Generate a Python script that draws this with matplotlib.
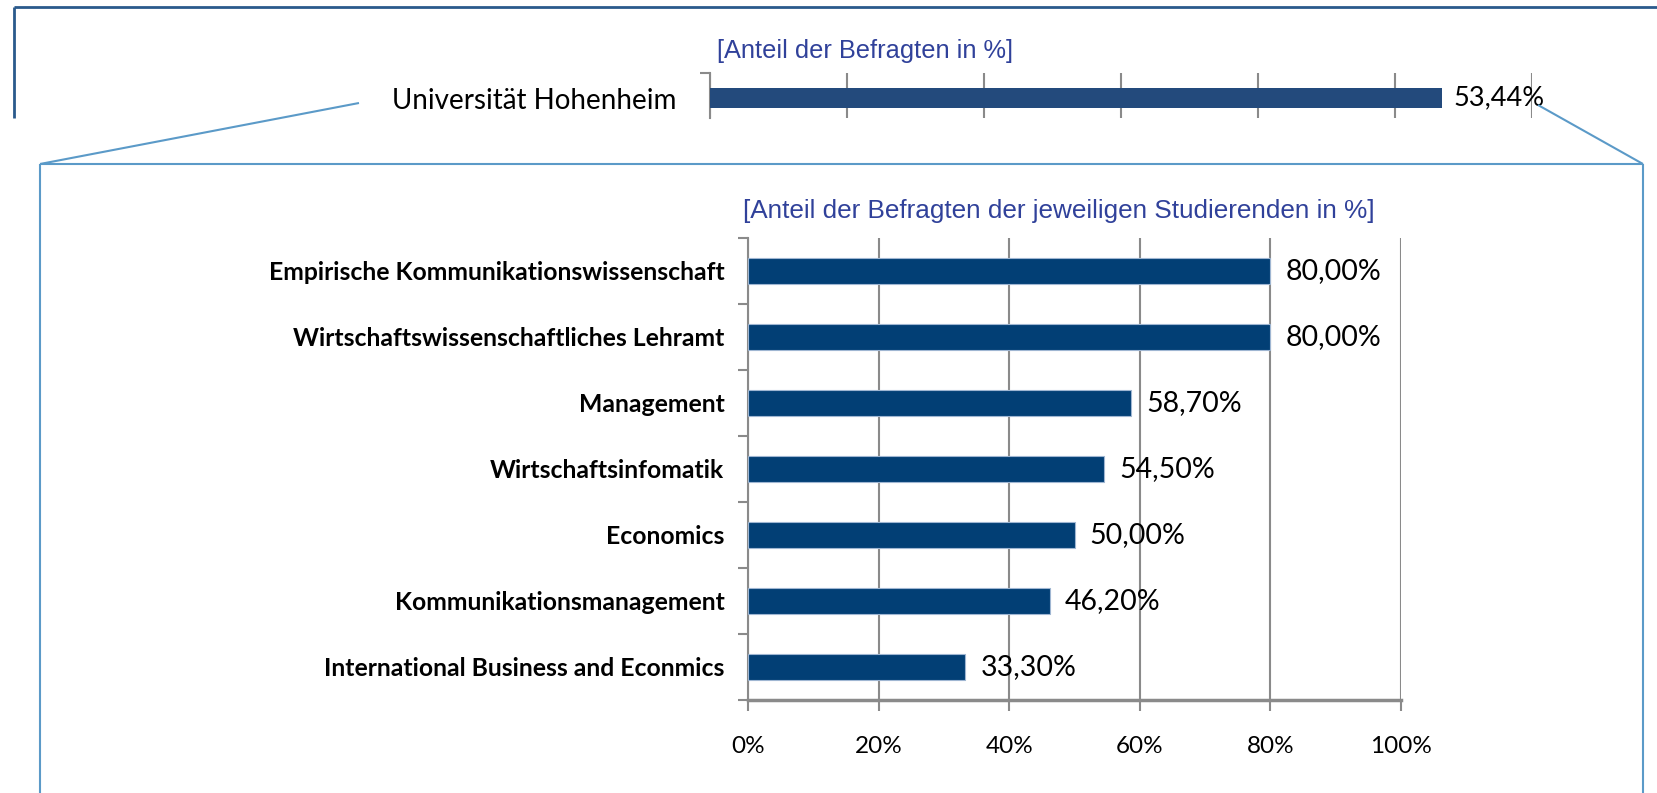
import numpy as np
import matplotlib
matplotlib.use("Agg")
import matplotlib.pyplot as plt
from matplotlib.lines import Line2D

# data
top_label = "Universität Hohenheim"
top_value = 53.44
top_title = "[Anteil der Befragten in %]"

categories = ["Empirische Kommunikationswissenschaft",
              "Wirtschaftswissenschaftliches Lehramt",
              "Management",
              "Wirtschaftsinfomatik",
              "Economics",
              "Kommunikationsmanagement",
              "International Business and Econmics"]
values = [80.0, 80.0, 58.7, 54.5, 50.0, 46.2, 33.3]
bottom_title = "[Anteil der Befragten der jeweiligen Studierenden in %]"
xticks = [0, 20, 40, 60, 80, 100]
xtick_labels = ["0%", "20%", "40%", "60%", "80%", "100%"]

W, H = 1657, 793
BODY = ["Lato", "DejaVu Sans"]
NARROW = ["Liberation Sans Narrow", "Liberation Sans", "DejaVu Sans"]
GRID = "#8a8a8a"
TITLE_C = "#30419a"
LINE_C = "#5b9ac8"


def fx(x):
    return x / W


def fy(y):
    return 1 - y / H


def rect(l, t, r, b):
    return [fx(l), fy(b), (r - l) / W, (b - t) / H]


def fline(xs, ys, color, lw):
    fig.add_artist(Line2D([fx(x) for x in xs], [fy(y) for y in ys],
                          transform=fig.transFigure, color=color, lw=lw,
                          solid_capstyle="butt"))


def fmt(v):
    return f"{v:.2f}".replace(".", ",") + "%"


fig = plt.figure(figsize=(W / 100, H / 100), dpi=100)

# frame of the outer (top) chart
fline([14, W], [7, 7], "#2a5a8c", 2)
fline([14, 14], [7, 118], "#2a5a8c", 2)

# ---- top chart
ax1 = fig.add_axes(rect(710, 73, 1532, 118))
ax1.barh([0], [top_value], height=0.444, color="#234a7c", zorder=3)
ax1.set_xlim(0, 60)
ax1.set_ylim(-0.444, 0.556)
ax1.set_xticks(range(0, 61, 10))
ax1.tick_params(axis="x", length=0, labelbottom=False)
ax1.grid(axis="x", color=GRID, lw=1.5, zorder=0)
for s in ["top", "right", "bottom"]:
    ax1.spines[s].set_visible(False)
ax1.spines["left"].set_color(GRID)
ax1.spines["left"].set_linewidth(1.5)
ax1.set_yticks([0], labels=[top_label], fontsize=20, family=BODY)
ax1.set_yticks([0.556], minor=True)
ax1.tick_params(axis="y", which="major", length=0, pad=24)
ax1.tick_params(axis="y", which="minor", length=7, width=1.5, color=GRID)
ax1.annotate(fmt(top_value), (top_value, 0), xytext=(8, 0),
             textcoords="offset points", va="center", ha="left",
             fontsize=19.5, family=BODY)
fig.text(fx(865), fy(51), top_title, color=TITLE_C, fontsize=18.3,
         family=NARROW, ha="center", va="center")

# ---- zoom callout box
fline([359, 40], [103, 164], LINE_C, 1.5)
fline([1538, 1643], [105, 164], LINE_C, 1.5)
fline([40, 1643], [164, 164], LINE_C, 1.5)
fline([40, 40], [164, H], LINE_C, 1.5)
fline([1643, 1643], [164, H], LINE_C, 1.5)

# ---- bottom chart
ax2 = fig.add_axes(rect(748, 238, 1401, 700))
y = np.arange(len(categories))[::-1]
ax2.barh(y, values, height=0.4, color="#023f75", edgecolor="#9fb6d2",
         lw=0.8, zorder=3)
ax2.set_xlim(0, 100)
ax2.set_ylim(-0.5, len(categories) - 0.5)
ax2.set_xticks(xticks, labels=xtick_labels, fontsize=17.5, family=BODY)
ax2.tick_params(axis="x", length=8, width=1.5, color=GRID, pad=18)
ax2.grid(axis="x", color=GRID, lw=1.5, zorder=0)
ax2.set_yticks(y, labels=categories, fontsize=17.8, fontweight="bold",
               family=BODY)
ax2.set_yticks(np.arange(-0.5, len(categories)), minor=True)
ax2.tick_params(axis="y", which="major", length=0, pad=17)
ax2.tick_params(axis="y", which="minor", length=7, width=1.5, color=GRID)
for s in ["top", "right"]:
    ax2.spines[s].set_visible(False)
ax2.spines["left"].set_color(GRID)
ax2.spines["left"].set_linewidth(1.5)
ax2.spines["bottom"].set_color(GRID)
ax2.spines["bottom"].set_linewidth(2.5)
for yi, v in zip(y, values):
    ax2.annotate(fmt(v), (v, yi), xytext=(11, 0), textcoords="offset points",
                 va="center", ha="left", fontsize=20.5, family=BODY)
fig.text(fx(1059), fy(211), bottom_title, color=TITLE_C, fontsize=18.8,
         family=NARROW, ha="center", va="center")

fig.savefig("out.png", dpi=100)
